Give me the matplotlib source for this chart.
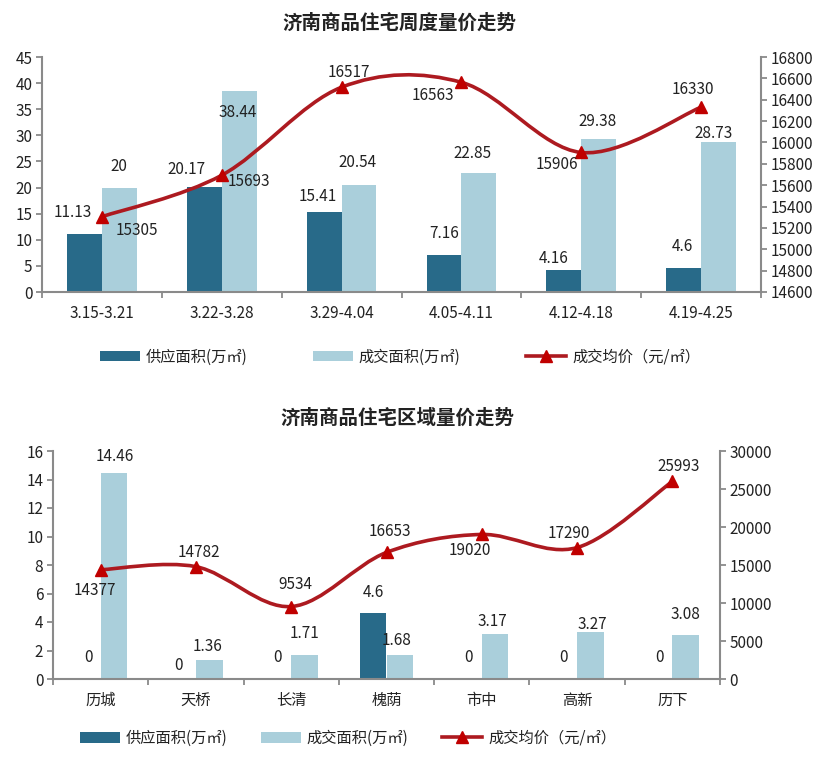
import numpy as np
import matplotlib
matplotlib.use("Agg")
import matplotlib.pyplot as plt
from matplotlib.path import Path
from matplotlib.patches import PathPatch, Patch
from matplotlib.lines import Line2D

plt.rcParams['font.family'] = ['Noto Sans CJK SC', 'DejaVu Sans']

# ---------------- data ----------------
title1 = "济南商品住宅周度量价走势"
weeks = ["3.15-3.21", "3.22-3.28", "3.29-4.04", "4.05-4.11", "4.12-4.18", "4.19-4.25"]
week_supply = [11.13, 20.17, 15.41, 7.16, 4.16, 4.6]
week_deal = [20, 38.44, 20.54, 22.85, 29.38, 28.73]
week_price = [15305, 15693, 16517, 16563, 15906, 16330]
week_left_ticks = [0, 5, 10, 15, 20, 25, 30, 35, 40, 45]
week_right_ticks = [14600, 14800, 15000, 15200, 15400, 15600, 15800, 16000, 16200, 16400, 16600, 16800]

title2 = "济南商品住宅区域量价走势"
districts = ["历城", "天桥", "长清", "槐荫", "市中", "高新", "历下"]
dist_supply = [0, 0, 0, 4.6, 0, 0, 0]
dist_deal = [14.46, 1.36, 1.71, 1.68, 3.17, 3.27, 3.08]
dist_price = [14377, 14782, 9534, 16653, 19020, 17290, 25993]
dist_left_ticks = [0, 2, 4, 6, 8, 10, 12, 14, 16]
dist_right_ticks = [0, 5000, 10000, 15000, 20000, 25000, 30000]

legend_labels = ["供应面积(万㎡)", "成交面积(万㎡)", "成交均价（元/㎡）"]

# ---------------- styles ----------------
C_DARK = "#286a89"
C_LIGHT = "#aacfdb"
C_LINE = "#ad1a20"
C_MARK = "#c00000"
C_SPINE = "#8a8a8a"
C_TEXT = "#222222"
FS = 11

# label offsets in pixels (dx, dy up)
w_sup_off = [(-12, 21), (-18, 17), (-6, 15), (0, 21), (-10, 12), (-1, 21)]
w_deal_off = [(0, 21), (-1, -21), (-1, 22), (-6, 19), (-1, 17), (-5, 8)]
w_price_off = [(35, -14), (27, -6), (7, 15), (-29, -13), (-24, -12), (-8, 18)]
d_sup_off = [(1, 21), (-4, 14), (0, 21), (0, 21), (0, 21), (0, 21), (0, 21)]
d_deal_off = [(1, 16), (-2, 13), (0, 21), (-3, 15), (-3, 12), (2, 8), (0, 21)]
d_price_off = [(-6, -21), (3, 14), (4, 22), (3, 21), (-12, -16), (-8, 14.5), (6, 15)]


def smooth_patch(xs, ys, **kw):
    pts = np.column_stack([xs, ys]).astype(float)
    n = len(pts)
    verts = [pts[0]]
    codes = [Path.MOVETO]
    for i in range(n - 1):
        p0 = pts[i - 1] if i > 0 else pts[i]
        p3 = pts[i + 2] if i + 2 < n else pts[i + 1]
        c1 = pts[i] + (pts[i + 1] - p0) / 6.0
        c2 = pts[i + 1] - (p3 - pts[i]) / 6.0
        verts += [c1, c2, pts[i + 1]]
        codes += [Path.CURVE4] * 3
    return PathPatch(Path(verts, codes), fill=False, **kw)


def fmt(v):
    return f"{v:g}"


def make_chart(rect, cats, sup, deal, price, lticks, rticks, bw,
               sup_off, deal_off, price_off):
    ax = fig.add_axes(rect)
    n = len(cats)
    x = np.arange(n)
    ax.bar(x - bw / 2, sup, bw, color=C_DARK, zorder=2)
    ax.bar(x + bw / 2, deal, bw, color=C_LIGHT, zorder=2)
    ax.set_xlim(-0.5, n - 0.5)
    ax.set_ylim(lticks[0], lticks[-1])
    ax.set_yticks(lticks)
    ax.set_xticks(x)
    ax.set_xticklabels(cats)
    ax.set_xticks(np.arange(n + 1) - 0.5, minor=True)
    ax.tick_params(axis='x', which='major', length=0, pad=9, labelsize=FS, labelcolor=C_TEXT)
    ax.tick_params(axis='x', which='minor', length=4, width=1.3, color=C_SPINE, direction='out')
    ax.tick_params(axis='y', length=4, width=1.3, color=C_SPINE, labelsize=FS,
                   labelcolor=C_TEXT, pad=3)
    for s in ['top', 'right']:
        ax.spines[s].set_visible(False)
    for s in ['left', 'bottom']:
        ax.spines[s].set_color(C_SPINE)
        ax.spines[s].set_linewidth(1.5)
    ax.set_facecolor('none')

    ax2 = ax.twinx()
    ax2.set_ylim(rticks[0], rticks[-1])
    ax2.set_yticks(rticks)
    ax2.tick_params(axis='y', length=4, width=1.3, color=C_SPINE, labelsize=FS,
                    labelcolor=C_TEXT, pad=3)
    for s in ['top', 'left', 'bottom']:
        ax2.spines[s].set_visible(False)
    ax2.spines['right'].set_color(C_SPINE)
    ax2.spines['right'].set_linewidth(1.5)
    ax2.add_patch(smooth_patch(x, price, edgecolor=C_LINE, linewidth=2.6,
                               capstyle='round', zorder=3))
    ax2.plot(x, price, linestyle='none', marker='^', markersize=9,
             color=C_MARK, zorder=4)

    for i in range(n):
        ax.annotate(fmt(sup[i]), xy=(x[i] - bw / 2, sup[i]), xytext=sup_off[i],
                    textcoords='offset pixels', ha='center', va='center',
                    fontsize=FS, color=C_TEXT, annotation_clip=False)
        ax.annotate(fmt(deal[i]), xy=(x[i] + bw / 2, deal[i]), xytext=deal_off[i],
                    textcoords='offset pixels', ha='center', va='center',
                    fontsize=FS, color=C_TEXT, annotation_clip=False)
        ax2.annotate(fmt(price[i]), xy=(x[i], price[i]), xytext=price_off[i],
                     textcoords='offset pixels', ha='center', va='center',
                     fontsize=FS, color=C_TEXT, zorder=5, annotation_clip=False)
    return ax, ax2


fig = plt.figure(figsize=(8.36, 7.59), dpi=100)
fig.patch.set_facecolor('white')

W, H = 836.0, 759.0
rect1 = [42 / W, 1 - 292 / H, (761 - 42) / W, (292 - 57) / H]
rect2 = [53 / W, 1 - 679 / H, (720 - 53) / W, (679 - 451) / H]

make_chart(rect1, weeks, week_supply, week_deal, week_price,
           week_left_ticks, week_right_ticks, 0.29,
           w_sup_off, w_deal_off, w_price_off)
make_chart(rect2, districts, dist_supply, dist_deal, dist_price,
           dist_left_ticks, dist_right_ticks, 0.28,
           d_sup_off, d_deal_off, d_price_off)

fig.text(399 / W, 1 - 23 / H, title1, ha='center', va='center', fontsize=14,
         fontweight='bold', color=C_TEXT)
fig.text(397 / W, 1 - 418 / H, title2, ha='center', va='center', fontsize=14,
         fontweight='bold', color=C_TEXT)

handles = [Patch(facecolor=C_DARK), Patch(facecolor=C_LIGHT),
           Line2D([], [], color=C_LINE, linewidth=2.6, marker='^',
                  markersize=9, markerfacecolor=C_MARK, markeredgecolor=C_MARK)]

fig.legend(handles, legend_labels, loc='center', bbox_to_anchor=(400 / W, 1 - 357 / H),
           ncol=3, frameon=False, fontsize=FS, handlelength=2.6, handletextpad=0.4,
           columnspacing=4.3, numpoints=1, labelcolor=C_TEXT)
fig.legend(handles, legend_labels, loc='center', bbox_to_anchor=(348 / W, 1 - 738 / H),
           ncol=3, frameon=False, fontsize=FS, handlelength=2.6, handletextpad=0.4,
           columnspacing=2.2, numpoints=1, labelcolor=C_TEXT)

fig.savefig("out.png", dpi=100, facecolor='white')
